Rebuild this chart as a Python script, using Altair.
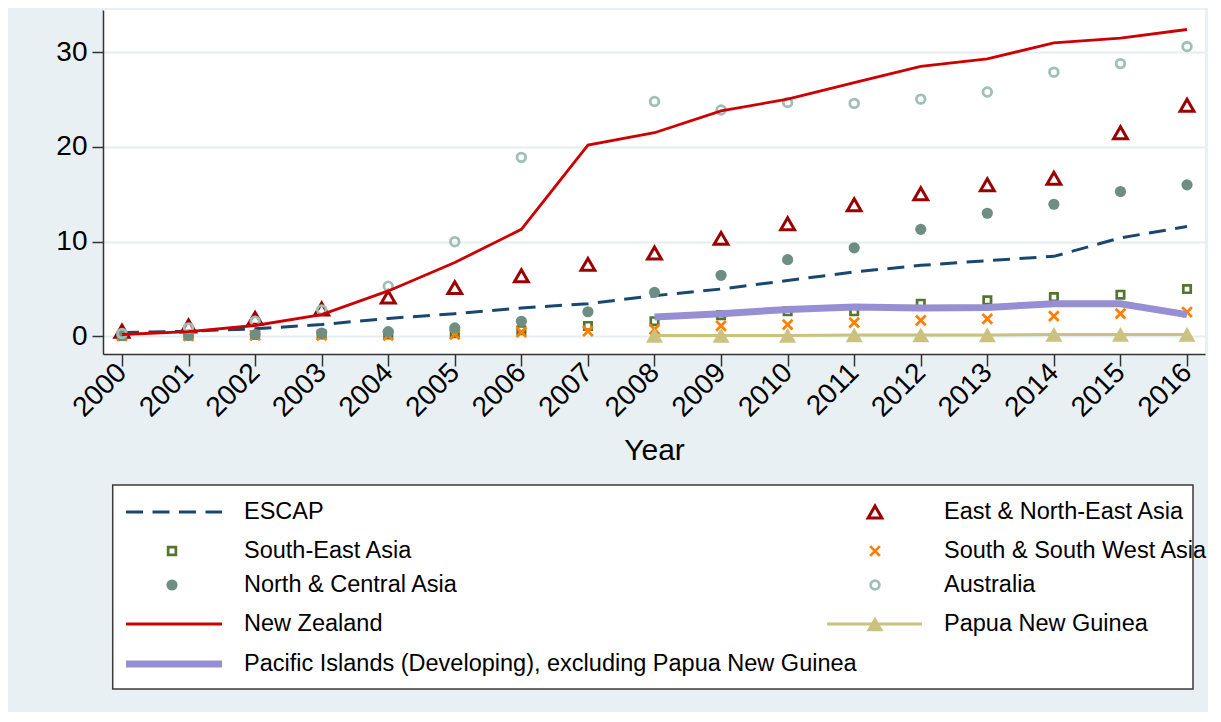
import altair as alt
import pandas as pd

# ---------------- data ----------------
years = list(range(2000, 2017))
series_names = [
    "ESCAP", "East & North-East Asia", "South-East Asia", "South & South West Asia",
    "North & Central Asia", "Australia", "New Zealand", "Papua New Guinea",
    "Pacific Islands (Developing), excluding Papua New Guinea",
]
escap = [0.4, 0.55, 0.8, 1.25, 1.9, 2.4, 3.0, 3.45, 4.3, 5.0, 5.9, 6.8, 7.5, 8.0, 8.45, 10.4, 11.6]
east_ne_asia = [0.55, 1.1, 1.9, 2.9, 4.15, 5.15, 6.4, 7.6, 8.8, 10.35, 11.9, 13.9, 15.05, 16.0, 16.7, 21.5, 24.4]
south_east_asia = [0.05, 0.1, 0.15, 0.2, 0.2, 0.35, 0.65, 1.1, 1.6, 2.25, 2.65, 2.65, 3.45, 3.8, 4.15, 4.4, 5.0]
south_sw_asia = [0.05, 0.05, 0.1, 0.1, 0.1, 0.2, 0.45, 0.55, 0.75, 1.1, 1.25, 1.45, 1.7, 1.85, 2.15, 2.4, 2.55]
north_central_asia = [0.1, 0.1, 0.2, 0.35, 0.5, 0.9, 1.6, 2.6, 4.65, 6.45, 8.1, 9.35, 11.3, 13.0, 13.95, 15.3, 16.0]
australia = [0.3, 0.9, 1.6, 2.8, 5.3, 10.0, 18.9, None, 24.8, 23.9, 24.7, 24.6, 25.05, 25.8, 27.9, 28.8, 30.6]
new_zealand = [0.2, 0.5, 1.15, 2.3, 4.8, 7.8, 11.3, 20.2, 21.5, 23.8, 25.05, 26.8, 28.5, 29.3, 31.0, 31.5, 32.4]
papua_new_guinea = [None] * 8 + [0.1, 0.1, 0.1, 0.15, 0.15, 0.15, 0.2, 0.2, 0.2]
pacific_islands = [None] * 8 + [2.05, 2.4, 2.85, 3.1, 3.0, 3.05, 3.45, 3.45, 2.3]

y_ticks = [0, 10, 20, 30]

all_values = [escap, east_ne_asia, south_east_asia, south_sw_asia, north_central_asia,
              australia, new_zealand, papua_new_guinea, pacific_islands]
rows = []
for name, vals in zip(series_names, all_values):
    for yr, v in zip(years, vals):
        if v is not None:
            rows.append({"year": yr, "series": name, "value": v})
df = pd.DataFrame(rows)

# ---------------- styles ----------------
BG = "#e9f0f3"
GRID = "#e4edf0"
FONT = "Liberation Sans"
C_ESCAP = "#1a476f"
C_EAST = "#9b0000"
C_SEA = "#55752f"
C_SSW = "#ff8000"
C_NCA = "#6e8e84"
C_AUS = "#9fbfb7"
C_NZ = "#cc0000"
C_PNG = "#cac27e"
C_PAC = "#968fd4"
X_SHAPE = "M-1,-1L1,1M1,-1L-1,1"

W, H = 1102, 344

xscale = alt.Scale(domain=[1999.715, 2016.27], nice=False, zero=False)
yscale = alt.Scale(domain=[-1.86, 34.46], nice=False, zero=False)

base = alt.Chart(df).encode(
    x=alt.X("year:Q", scale=xscale,
            axis=alt.Axis(values=years, format="d", labelAngle=-45, labelAlign="right",
                          labelBaseline="middle", labelPadding=2, tickSize=12,
                          title="Year", titlePadding=14, grid=False)),
    y=alt.Y("value:Q", scale=yscale,
            axis=alt.Axis(values=y_ticks, format="d", title=None, tickSize=11,
                          labelPadding=5, grid=True)),
)


def sel(name):
    return base.transform_filter(alt.datum.series == name)


l_escap = sel(series_names[0]).mark_line(color=C_ESCAP, strokeWidth=3, strokeDash=[17, 9.5])
l_east = sel(series_names[1]).mark_point(shape="triangle-up", filled=False, color=C_EAST,
                                         size=190, strokeWidth=3, opacity=1)
l_sea = sel(series_names[2]).mark_point(shape="square", filled=False, color=C_SEA,
                                        size=55, strokeWidth=2.7, opacity=1)
l_ssw = sel(series_names[3]).mark_point(shape=X_SHAPE, filled=False, color=C_SSW,
                                        size=95, strokeWidth=2.8, opacity=1)
l_nca = sel(series_names[4]).mark_point(shape="circle", filled=True, color=C_NCA,
                                        size=125, opacity=1)
l_aus = sel(series_names[5]).mark_point(shape="circle", filled=False, color=C_AUS,
                                        size=75, strokeWidth=2.8, opacity=1)
l_nz = sel(series_names[6]).mark_line(color=C_NZ, strokeWidth=2.8)
l_png_line = sel(series_names[7]).mark_line(color=C_PNG, strokeWidth=3)
l_png_pts = sel(series_names[7]).mark_point(shape="triangle-up", filled=True, color=C_PNG,
                                            size=290, opacity=1)
l_pac = sel(series_names[8]).mark_line(color=C_PAC, strokeWidth=7)

plot = alt.layer(
    l_escap, l_east, l_sea, l_ssw, l_nca, l_aus, l_nz, l_png_line, l_png_pts, l_pac
).properties(width=W, height=H, view=alt.ViewBackground(fill="white", stroke="transparent"))

# ---------------- legend panel ----------------
LH = 204
leg_labels = [series_names[0], series_names[1], series_names[2], series_names[3],
              series_names[4], series_names[5], series_names[6], series_names[7],
              series_names[8]]
leg_col = [0, 1, 0, 1, 0, 1, 0, 1, 0]
leg_row = [0, 0, 1, 1, 2, 2, 3, 3, 4]
row_y = [27, 66, 100, 139, 179]
sym_x = [69, 772]
line_x1 = [23, 724]
line_x2 = [119, 819]
text_x = [141, 841]

leg = pd.DataFrame({"label": leg_labels, "col": leg_col, "row": leg_row})
leg["sx"] = [sym_x[c] for c in leg["col"]]
leg["lx1"] = [line_x1[c] for c in leg["col"]]
leg["lx2"] = [line_x2[c] for c in leg["col"]]
leg["tx"] = [text_x[c] for c in leg["col"]]
leg["ty"] = [row_y[r] for r in leg["row"]]

box = pd.DataFrame({"x1": [9.7], "x2": [1090], "y1": [0], "y2": [LH]})

lxs = alt.Scale(domain=[0, W], nice=False, zero=False)
lys = alt.Scale(domain=[0, LH], nice=False, zero=False, reverse=True)

box_layer = alt.Chart(box).mark_rect(fill="white", stroke="#3a3a3a", strokeWidth=1.5).encode(
    x=alt.X("x1:Q", scale=lxs, axis=None), x2="x2:Q",
    y=alt.Y("y1:Q", scale=lys, axis=None), y2="y2:Q",
)

lbase = alt.Chart(leg)


def lsel(name):
    return lbase.transform_filter(alt.datum.label == name)


def lline(name, **kw):
    return lsel(name).mark_rule(**kw).encode(
        x=alt.X("lx1:Q", scale=lxs, axis=None), x2="lx2:Q",
        y=alt.Y("ty:Q", scale=lys, axis=None))


def lpoint(name, **kw):
    return lsel(name).mark_point(opacity=1, **kw).encode(
        x=alt.X("sx:Q", scale=lxs, axis=None),
        y=alt.Y("ty:Q", scale=lys, axis=None))


leg_text = lbase.mark_text(align="left", baseline="middle", fontSize=23.5, font=FONT,
                           color="#000000").encode(
    x=alt.X("tx:Q", scale=lxs, axis=None),
    y=alt.Y("ty:Q", scale=lys, axis=None),
    text="label:N",
)

legend = alt.layer(
    box_layer,
    lline(series_names[0], color=C_ESCAP, strokeWidth=3, strokeDash=[17, 9.5]),
    lpoint(series_names[1], shape="triangle-up", filled=False, color=C_EAST, size=190, strokeWidth=3),
    lpoint(series_names[2], shape="square", filled=False, color=C_SEA, size=60, strokeWidth=2.7),
    lpoint(series_names[3], shape=X_SHAPE, filled=False, color=C_SSW, size=95, strokeWidth=2.8),
    lpoint(series_names[4], shape="circle", filled=True, color=C_NCA, size=125),
    lpoint(series_names[5], shape="circle", filled=False, color=C_AUS, size=75, strokeWidth=2.8),
    lline(series_names[6], color=C_NZ, strokeWidth=2.8),
    lline(series_names[7], color=C_PNG, strokeWidth=3),
    lpoint(series_names[7], shape="triangle-up", filled=True, color=C_PNG, size=290),
    lline(series_names[8], color=C_PAC, strokeWidth=7),
    leg_text,
).properties(width=W, height=LH, view=alt.ViewBackground(fill="transparent", stroke="transparent"))

chart = alt.vconcat(plot, legend, spacing=18).resolve_scale(
    x="independent", y="independent"
).properties(
    padding={"left": 47, "top": 2, "right": 0, "bottom": 22},
    description="Figure 1. Fixed-broadband subscriptions per 100 inhabitants by sub-region, 2000-2016",
).configure(
    background=BG, font=FONT
).configure_view(
    strokeWidth=0
).configure_axis(
    domainColor="#333333", domainWidth=1.5, tickColor="#333333", tickWidth=1.5,
    labelColor="#000000", labelFont=FONT, labelFontSize=28,
    titleColor="#000000", titleFont=FONT, titleFontSize=30, titleFontWeight="normal",
    gridColor=GRID, gridWidth=2,
)

chart.save("out.html", embed_options={"renderer": "svg", "actions": False})
